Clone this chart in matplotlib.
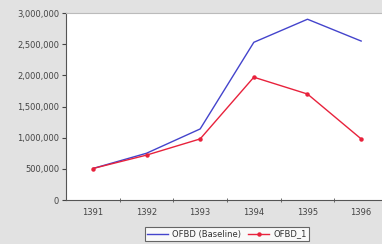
import numpy as np
import matplotlib.pyplot as plt
from matplotlib.ticker import FuncFormatter

years = ['1391', '1392', '1393', '1394', '1395', '1396']
baseline = [505000, 750000, 1140000, 2530000, 2900000, 2550000]
ofbd_1 = [505000, 720000, 980000, 1970000, 1700000, 980000]

fig = plt.figure(figsize=(3.82, 2.44), dpi=100)
fig.patch.set_facecolor('#e2e2e2')

# plot area runs a little past the right edge of the picture
ax = fig.add_axes([66 / 382, 44 / 244, 322 / 382, 187 / 244])
ax.set_facecolor('white')

x = np.arange(len(years))
ax.plot(x, baseline, color='#4444cc', lw=1.0, label='OFBD (Baseline)')
ax.plot(x, ofbd_1, color='#e8223c', lw=1.0, marker='o', markersize=2.2,
        label='OFBD_1')

ax.set_xlim(-0.5, len(years) - 0.5)
ax.set_ylim(0, 3000000)
ax.set_yticks(np.arange(0, 3000001, 500000))
ax.yaxis.set_major_formatter(FuncFormatter(lambda v, p: '{:,.0f}'.format(v)))
ax.set_xticks(x)
ax.set_xticklabels(years)
ax.set_xticks(np.arange(0.5, len(years) - 0.5), minor=True)

ax.tick_params(axis='x', which='major', length=0, labelsize=6, pad=6,
               colors='#444444')
ax.tick_params(axis='x', which='minor', length=3, direction='inout',
               color='#555555')
ax.tick_params(axis='y', length=3, labelsize=6, pad=2, colors='#444444')

for s in ['top', 'right']:
    ax.spines[s].set_color('#bbbbbb')
    ax.spines[s].set_linewidth(0.8)
for s in ['left', 'bottom']:
    ax.spines[s].set_color('#555555')
    ax.spines[s].set_linewidth(0.8)

leg = fig.legend(loc='center', bbox_to_anchor=(227 / 382, 1 - 234 / 244),
                 ncol=2, fontsize=6, frameon=True, fancybox=False,
                 handlelength=2.5, columnspacing=0.8, borderpad=0.3,
                 handletextpad=0.5)
leg.get_frame().set_edgecolor('#444444')
leg.get_frame().set_linewidth(0.8)
for t in leg.get_texts():
    t.set_color('#333333')

fig.savefig('out.png', dpi=100, facecolor=fig.get_facecolor())
